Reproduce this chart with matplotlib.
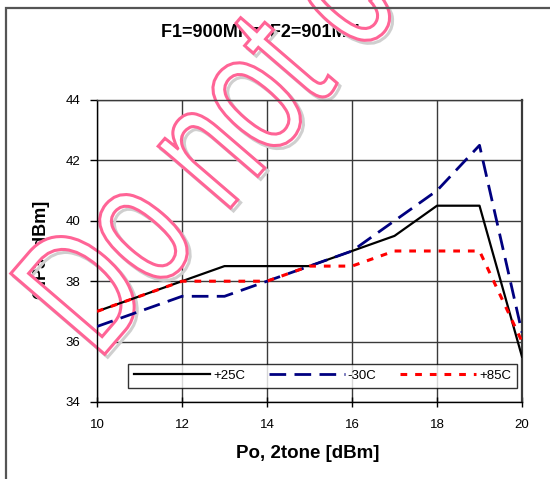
import matplotlib
matplotlib.use("Agg")
import matplotlib.pyplot as plt
from matplotlib.textpath import TextPath
from matplotlib.patches import PathPatch, Rectangle
from matplotlib.font_manager import FontProperties
from matplotlib.transforms import Affine2D, IdentityTransform

plt.rcParams['font.family'] = ['Liberation Sans', 'DejaVu Sans']

# Output power sweep (dBm) and OIP3 (dBm) at three temperatures
po = [10, 12, 13, 14, 15, 16, 17, 18, 19, 20]
oip3_p25 = [37.0, 38.0, 38.5, 38.5, 38.5, 39.0, 39.5, 40.5, 40.5, 35.5]
oip3_m30 = [36.5, 37.5, 37.5, 38.0, 38.5, 39.0, 40.0, 41.0, 42.5, 36.3]
oip3_p85 = [37.0, 38.0, 38.0, 38.0, 38.5, 38.5, 39.0, 39.0, 39.0, 36.0]

labels = ['+25C', '-30C', '+85C']
x_ticks = [10, 12, 14, 16, 18, 20]
y_ticks = [34, 36, 38, 40, 42, 44]

W, H = 550, 479
fig = plt.figure(figsize=(W / 100, H / 100), dpi=100)
ax = fig.add_axes([97 / W, 1 - 402 / H, (522 - 97) / W, (402 - 100) / H])

ax.set_xlim(10, 20)
ax.set_ylim(34, 44)
ax.set_xticks(x_ticks)
ax.set_yticks(y_ticks)
ax.set_axisbelow(True)
ax.grid(True, color='#3a3a3a', linewidth=1.0)
for s in ax.spines.values():
    s.set_color('#3a3a3a')
    s.set_linewidth(1.0)
ax.spines['left'].set_color('black')
ax.spines['bottom'].set_color('black')
ax.spines['right'].set_linewidth(1.6)

ax.tick_params(axis='y', direction='out', length=5, width=1, pad=7, labelsize=9.5)
ax.tick_params(axis='x', direction='inout', length=7, width=1, pad=9, labelsize=9.5)

l1, = ax.plot(po, oip3_p25, color='black', linewidth=1.6, zorder=3)
l2, = ax.plot(po, oip3_m30, color='#000080', linewidth=2.0, dashes=(6, 3), zorder=4)
l3, = ax.plot(po, oip3_p85, color='#ff0000', linewidth=2.2, dashes=(2.2, 2.6), zorder=5)

leg = ax.legend([l1, l2, l3], labels, ncol=3, loc='lower left',
                bbox_to_anchor=(128 / W, 1 - 388 / H, (517 - 128) / W, (388 - 359) / H),
                bbox_transform=fig.transFigure, mode='expand',
                handlelength=5.8, handletextpad=0.2, columnspacing=0.8,
                fontsize=9.5, frameon=True, fancybox=False, borderaxespad=0,
                borderpad=0.45)
leg.get_frame().set_edgecolor('black')
leg.get_frame().set_linewidth(1.0)
leg.set_zorder(6)

ax.text(265 / W, 1 - 32 / H, 'F1=900MHz, F2=901MHz', transform=fig.transFigure,
        ha='center', va='center', fontsize=13, fontweight='bold', zorder=1)
ax.text(308 / W, 1 - 453 / H, 'Po, 2tone [dBm]', transform=fig.transFigure,
        ha='center', va='center', fontsize=13.5, fontweight='bold', zorder=1)
ax.text(41 / W, 1 - 250 / H, 'OIP3 [dBm]', transform=fig.transFigure,
        ha='center', va='center', fontsize=13, fontweight='bold',
        rotation=90, zorder=1)

# outer frame of the figure
fig.patches.append(Rectangle((6 / W, -0.1), 1.2, 1 - 8 / H + 0.1,
                             transform=fig.transFigure, fill=False,
                             edgecolor='#555555', linewidth=1.6))

# watermark: condensed outline lettering with a light drop shadow
tp = TextPath((0, 0), 'Do not copy', size=100,
              prop=FontProperties(family='Liberation Sans'))
base = Affine2D().scale(1.25, 1.8).rotate_deg(49.3).translate(98, H - 362)
for dx, dy, ec, fc, z in [(3, -3, '#cfcfcf', 'none', 1.4),
                          (0, 0, '#ff6496', 'white', 1.5)]:
    tr = base + Affine2D().translate(dx, dy)
    p = PathPatch(tr.transform_path(tp), transform=IdentityTransform(),
                  facecolor=fc, edgecolor=ec, linewidth=2.2, clip_on=False,
                  zorder=z)
    ax.add_artist(p)

fig.savefig('out.png', dpi=100)
